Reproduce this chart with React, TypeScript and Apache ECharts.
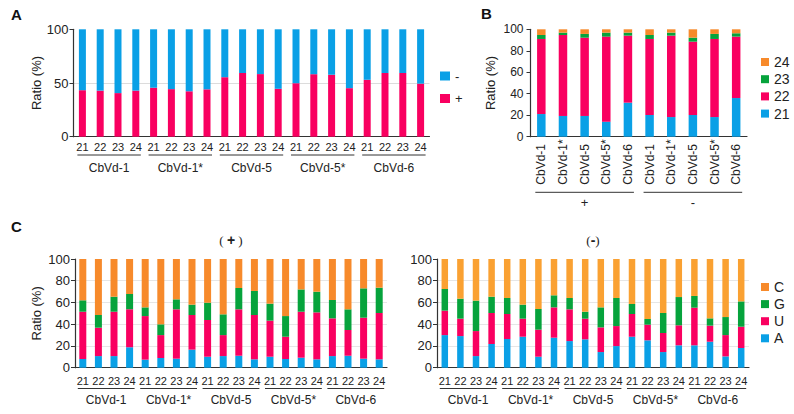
import React, { useEffect, useRef } from 'react';
import * as echarts from 'echarts';

const FONT = '"Liberation Sans", Arial, Helvetica, sans-serif';

// ---------- categories ----------
const sizeCats = ['21', '22', '23', '24'];
const groups = ['CbVd-1', 'CbVd-1*', 'CbVd-5', 'CbVd-5*', 'CbVd-6'];
const strandGroups = ['+', '-'];
const catsBySize = groups.flatMap(() => sizeCats);
const catsB = strandGroups.flatMap(() => groups);

// ---------- panel A: strand ratio ----------
const aPlus = [43.3, 42.9, 40.6, 42.9, 45.6, 44.3, 42.3, 44.1, 55.4, 59.3, 58.3, 44.6, 49.8, 58.2, 57.7, 45.2, 53.0, 59.3, 59.3, 49.4];
const aMinus = [56.7, 57.1, 59.4, 57.1, 54.4, 55.7, 57.7, 55.9, 44.6, 40.7, 41.7, 55.4, 50.2, 41.8, 42.3, 54.8, 47.0, 40.7, 40.7, 50.6];

// ---------- panel B: size distribution ----------
const b21 = [21.1, 19.3, 19.3, 14.0, 31.7, 20.2, 18.3, 20.2, 18.3, 36.0];
const b22 = [69.9, 75.4, 72.9, 79.2, 62.4, 70.8, 75.8, 68.3, 72.7, 57.2];
const b23 = [3.7, 2.2, 3.5, 3.7, 2.8, 3.7, 2.8, 3.7, 4.7, 3.1];
const b24 = [5.3, 3.1, 4.3, 3.1, 3.1, 5.3, 3.1, 7.8, 4.3, 3.7];

// ---------- panel C: 5' nucleotide, (+) strand ----------
const cPlusA = [8.0, 10.7, 10.7, 18.7, 7.4, 8.9, 8.3, 16.6, 10.1, 10.7, 11.0, 7.7, 10.1, 8.0, 9.2, 7.7, 10.7, 11.0, 8.3, 7.7];
const cPlusU = [43.5, 26.1, 40.8, 35.0, 40.1, 21.1, 45.4, 31.9, 33.8, 19.3, 42.7, 40.8, 33.2, 20.5, 42.3, 43.2, 34.7, 23.7, 37.7, 42.6];
const cPlusG = [10.5, 11.7, 13.8, 14.1, 8.0, 9.9, 9.2, 9.5, 15.9, 19.1, 19.6, 22.1, 15.6, 19.0, 20.5, 19.0, 16.9, 19.0, 27.0, 23.3];
const cPlusC = [38.0, 51.5, 34.7, 32.2, 44.5, 60.1, 37.1, 42.0, 40.2, 50.9, 26.7, 29.4, 41.1, 52.5, 28.0, 30.1, 37.7, 46.3, 27.0, 26.4];

// ---------- panel C: 5' nucleotide, (-) strand ----------
const cMinusA = [30.0, 29.1, 10.7, 21.8, 26.4, 28.5, 10.1, 27.6, 24.5, 26.1, 14.4, 19.9, 28.5, 25.2, 14.4, 20.6, 20.6, 23.9, 10.4, 18.1];
const cMinusU = [22.5, 16.0, 23.0, 28.5, 23.0, 16.6, 24.9, 27.9, 29.2, 19.0, 22.7, 18.4, 20.9, 14.4, 17.5, 18.4, 34.6, 14.8, 19.6, 19.6];
const cMinusG = [19.9, 18.4, 28.0, 15.0, 14.7, 12.9, 19.0, 11.1, 10.4, 6.4, 18.4, 25.8, 9.2, 5.2, 18.4, 26.0, 10.8, 6.7, 16.6, 23.3];
const cMinusC = [27.6, 36.5, 38.3, 34.7, 35.9, 42.0, 46.0, 33.4, 35.9, 48.5, 44.5, 35.9, 41.4, 55.2, 49.7, 35.0, 34.0, 54.6, 53.4, 39.0];

const BLUE = '#0aa0e6';
const PINK = '#f90060';
const GREEN = '#06a33c';
const ORANGE = '#f78a2b';
const ORANGE2 = '#faa132';
const AXIS = '#333';
const TXT = '#222';

const grids = [
  { left: 73.5, top: 29.3, width: 356, height: 107.4 },
  { left: 530.5, top: 29.3, width: 216.5, height: 107.4 },
  { left: 75, top: 259, width: 312, height: 108.7 },
  { left: 437, top: 259, width: 312, height: 108.7 },
];

const xAxisBase = (gridIndex: number, data: string[], label: any) => ({
  type: 'category',
  gridIndex,
  data,
  axisLine: { show: true, lineStyle: { color: AXIS, width: 1.2 } },
  axisTick: { show: false },
  axisLabel: { interval: 0, fontSize: 11, color: TXT, fontFamily: FONT, ...label },
  splitLine: { show: false },
});

const yAxisBase = (gridIndex: number, interval: number, fontSize: number, name: string, nameGap: number, splitColors: any, margin: number) => ({
  type: 'value',
  gridIndex,
  min: 0,
  max: 100,
  interval,
  name,
  nameLocation: 'middle',
  nameGap,
  nameTextStyle: { fontSize: 13, color: TXT, fontFamily: FONT },
  axisLine: { show: true, lineStyle: { color: AXIS, width: 1.2 } },
  axisTick: { show: true, length: 4, lineStyle: { color: AXIS } },
  axisLabel: { fontSize, color: TXT, margin, fontFamily: FONT },
  splitLine: splitColors ? { show: true, lineStyle: { color: splitColors, width: 1 } } : { show: false },
});

const bar = (name: string, data: number[], axis: number, stack: string, color: string, barWidth: number) => ({
  type: 'bar',
  name,
  data,
  xAxisIndex: axis,
  yAxisIndex: axis,
  stack,
  barWidth,
  itemStyle: { color },
  emphasis: { disabled: true },
});

const legendBase = {
  orient: 'vertical',
  icon: 'rect',
  selectedMode: false,
  textStyle: { fontSize: 14, color: TXT, fontFamily: FONT },
};

export default function App() {
  const ref = useRef<HTMLDivElement>(null);
  useEffect(() => {
    const chart = echarts.init(ref.current!, null, { renderer: 'svg' });
    const option: any = {
      animation: false,
      textStyle: { fontFamily: FONT },
      grid: grids,
      xAxis: [
        xAxisBase(0, catsBySize, { margin: 4.5 }),
        xAxisBase(1, catsB, { rotate: 90, align: 'left', verticalAlign: 'middle', margin: 48, fontSize: 12 }),
        xAxisBase(2, catsBySize, { margin: 7.5 }),
        xAxisBase(3, catsBySize, { margin: 7.5 }),
      ],
      yAxis: [
        yAxisBase(0, 50, 13, 'Ratio (%)', 31, ['rgba(0,0,0,0)', '#dcdcdc'], 5),
        yAxisBase(1, 20, 12, 'Ratio (%)', 34, null, 7),
        yAxisBase(2, 20, 13, 'Ratio (%)', 32, ['rgba(0,0,0,0)', '#e6e6e6', '#e6e6e6', '#e6e6e6', '#e6e6e6'], 5),
        yAxisBase(3, 20, 13, '', 30, ['rgba(0,0,0,0)', '#e6e6e6', '#e6e6e6', '#e6e6e6', '#e6e6e6'], 5),
      ],
      legend: [
        { ...legendBase, data: ['-', '+'], left: 435, top: 64.5, itemWidth: 10, itemHeight: 9, itemGap: 9.5, textStyle: { ...legendBase.textStyle, fontSize: 13 } },
        { ...legendBase, data: ['24', '23', '22', '21'], left: 756, top: 50, itemWidth: 8, itemHeight: 8, itemGap: 3.2 },
        { ...legendBase, data: ['C', 'G', 'U', 'A'], left: 756, top: 275, itemWidth: 8, itemHeight: 8, itemGap: 3.1 },
      ],
      series: [
        bar('+', aPlus, 0, 'a', PINK, 7),
        bar('-', aMinus, 0, 'a', BLUE, 7),
        bar('21', b21, 1, 'b', BLUE, 8.5),
        bar('22', b22, 1, 'b', PINK, 8.5),
        bar('23', b23, 1, 'b', GREEN, 8.5),
        bar('24', b24, 1, 'b', ORANGE, 8.5),
        bar('A', cPlusA, 2, 'cp', BLUE, 7),
        bar('U', cPlusU, 2, 'cp', PINK, 7),
        bar('G', cPlusG, 2, 'cp', GREEN, 7),
        bar('C', cPlusC, 2, 'cp', ORANGE, 7),
        bar('A', cMinusA, 3, 'cm', BLUE, 6.5),
        bar('U', cMinusU, 3, 'cm', PINK, 6.5),
        bar('G', cMinusG, 3, 'cm', GREEN, 6.5),
        bar('C', cMinusC, 3, 'cm', ORANGE2, 6.5),
      ],
    };
    chart.setOption(option);

    const gx = (axis: number, i: number): number => {
      const p: any = chart.convertToPixel({ xAxisIndex: axis } as any, i);
      return Array.isArray(p) ? p[0] : p;
    };
    const els: any[] = [];
    const addGroups = (axis: number, names: string[], per: number, lineY: number, textY: number, pad: number, fontSize: number) => {
      names.forEach((nm, g) => {
        const c1 = gx(axis, g * per);
        const c2 = gx(axis, g * per + per - 1);
        els.push({
          type: 'line',
          shape: { x1: c1 - pad, y1: lineY, x2: c2 + pad, y2: lineY },
          style: { stroke: AXIS, lineWidth: 1 },
          silent: true,
        });
        els.push({
          type: 'text',
          x: (c1 + c2) / 2,
          y: textY,
          style: { text: nm, fontSize, fontFamily: FONT, fill: TXT, align: 'center', verticalAlign: 'middle' },
          silent: true,
        });
      });
    };
    addGroups(0, groups, 4, 155, 168, 5, 12);
    addGroups(1, strandGroups, 5, 192.3, 202.5, 6, 13);
    addGroups(2, groups, 4, 388.5, 399.5, 5, 12);
    addGroups(3, groups, 4, 388.5, 399.5, 5, 12);

    const letter = (t: string, x: number, y: number) => ({
      type: 'text',
      x,
      y,
      style: { text: t, fontSize: 15, fontWeight: 'bold', fontFamily: FONT, fill: '#111', align: 'left', verticalAlign: 'middle' },
      silent: true,
    });
    els.push(letter('A', 11, 14));
    els.push(letter('B', 481, 13));
    els.push(letter('C', 11, 226));

    const subTitle = (t: string, x: number) => ({
      type: 'text',
      x,
      y: 240,
      style: {
        text: t,
        align: 'center',
        verticalAlign: 'middle',
        fill: TXT,
        rich: {
          p: { fontSize: 13, fontFamily: '"Liberation Serif", serif', fill: TXT },
          b: { fontSize: 14, fontWeight: 'bold', fontFamily: FONT, fill: TXT },
        },
      },
      silent: true,
    });
    els.push(subTitle('{p|( }{b|+}{p| )}', grids[2].left + grids[2].width / 2));
    els.push(subTitle('{p|(}{b|-}{p|)}', grids[3].left + grids[3].width / 2));

    chart.setOption({ graphic: els });
    return () => chart.dispose();
  }, []);
  return (
    <div
      ref={ref}
      style={{ position: 'fixed', left: 0, top: 0, width: 794, height: 414, background: '#fff' }}
    />
  );
}
